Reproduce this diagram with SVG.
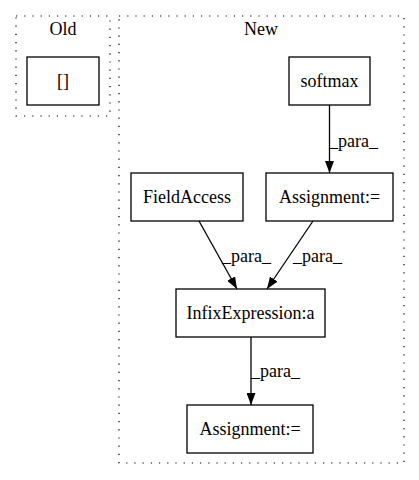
<svg xmlns="http://www.w3.org/2000/svg" width="419" height="480" viewBox="0 0 419 480">
<defs>
<style>
text{font-family:"Liberation Serif","Times New Roman",serif;font-size:18px;fill:#000}
.c{fill:none;stroke:#000;stroke-width:1.2;stroke-dasharray:1.2,7}
.n{fill:none;stroke:#000;stroke-width:1.3}
.e{fill:none;stroke:#000;stroke-width:1.3}
</style>
<marker id="ah" markerWidth="12" markerHeight="9" refX="12" refY="4.5" orient="auto" markerUnits="userSpaceOnUse">
<polygon points="0,0 12,4.5 0,9" fill="#000"/>
</marker>
</defs>
<rect width="419" height="480" fill="#fff"/>
<g id="cluster_old">
<rect class="c" x="16" y="16" width="94" height="100"/>
<text x="63" y="35" text-anchor="middle">Old</text>
</g>
<g id="cluster_new">
<rect class="c" x="119" y="16" width="285" height="447"/>
<text x="261" y="35" text-anchor="middle">New</text>
</g>
<g id="node_brackets">
<rect class="n" x="27" y="57" width="72" height="48"/>
<text x="63" y="87" text-anchor="middle">[]</text>
</g>
<g id="node_softmax">
<rect class="n" x="289" y="57" width="81" height="48"/>
<text x="329.5" y="87" text-anchor="middle">softmax</text>
</g>
<g id="node_fieldaccess">
<rect class="n" x="131" y="173" width="112" height="48"/>
<text x="187" y="203" text-anchor="middle">FieldAccess</text>
</g>
<g id="node_assign1">
<rect class="n" x="266" y="173" width="127" height="48"/>
<text x="329.5" y="203" text-anchor="middle">Assignment:=</text>
</g>
<g id="node_infix">
<rect class="n" x="176" y="289" width="149" height="48"/>
<text x="250.5" y="319" text-anchor="middle">InfixExpression:a</text>
</g>
<g id="node_assign2">
<rect class="n" x="187" y="405" width="126" height="48"/>
<text x="250" y="435" text-anchor="middle">Assignment:=</text>
</g>
<g id="connectors">
<line class="e" x1="329.5" y1="105" x2="329.5" y2="173" marker-end="url(#ah)"/>
<text x="329" y="147">_para_</text>
<line class="e" x1="199" y1="221" x2="237" y2="289" marker-end="url(#ah)"/>
<text x="222" y="262">_para_</text>
<line class="e" x1="313" y1="221" x2="267" y2="289" marker-end="url(#ah)"/>
<text x="293" y="262">_para_</text>
<line class="e" x1="251" y1="337" x2="251" y2="405" marker-end="url(#ah)"/>
<text x="251" y="377">_para_</text>
</g>
</svg>
